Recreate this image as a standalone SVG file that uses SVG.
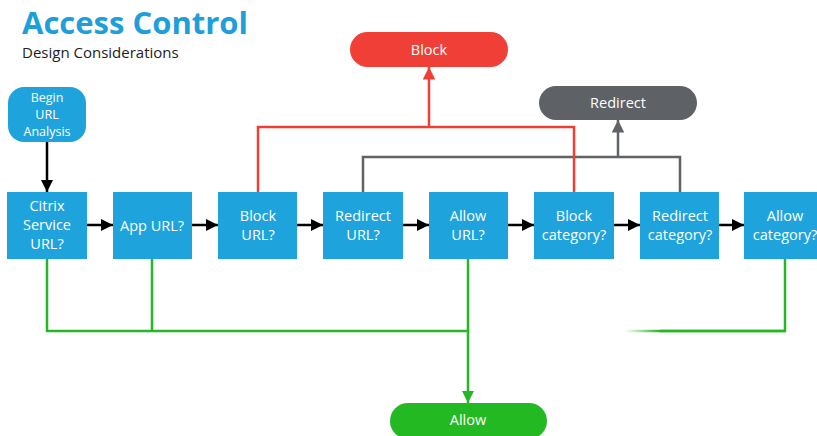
<svg xmlns="http://www.w3.org/2000/svg" width="817" height="436" viewBox="0 0 817 436">
<defs>
<style>
.box{fill:#1fa3dd}
.bt{fill:#fff;font-family:"Open Sans","Noto Sans",sans-serif;font-size:14.5px;text-anchor:middle}
.st{fill:#fff;font-family:"Open Sans","Noto Sans",sans-serif;font-size:12.5px;text-anchor:middle}
.k{stroke:#000;stroke-width:2.5;fill:none}
.r{stroke:#ef3e36;stroke-width:2.5;fill:none}
.g{stroke:#5f6266;stroke-width:2.5;fill:none}
.gr{stroke:#24b824;stroke-width:2.5;fill:none}
</style>
<marker id="ak" viewBox="0 0 10 10" refX="10" refY="5" markerWidth="5" markerHeight="5" orient="auto" markerUnits="strokeWidth"><path d="M0,0L10,5L0,10z" fill="#000"/></marker>
<marker id="ar" viewBox="0 0 10 10" refX="10" refY="5" markerWidth="5" markerHeight="5" orient="auto" markerUnits="strokeWidth"><path d="M0,0L10,5L0,10z" fill="#ef3e36"/></marker>
<marker id="ag" viewBox="0 0 10 10" refX="10" refY="5" markerWidth="5" markerHeight="5" orient="auto" markerUnits="strokeWidth"><path d="M0,0L10,5L0,10z" fill="#5f6266"/></marker>
<marker id="agr" viewBox="0 0 10 10" refX="10" refY="5" markerWidth="5" markerHeight="5" orient="auto" markerUnits="strokeWidth"><path d="M0,0L10,5L0,10z" fill="#24b824"/></marker>
<linearGradient id="fade" x1="625" y1="0" x2="660" y2="0" gradientUnits="userSpaceOnUse"><stop offset="0" stop-color="#24b824" stop-opacity="0"/><stop offset="1" stop-color="#24b824"/></linearGradient>
</defs>
<rect width="817" height="436" fill="#fff"/>
<text x="22" y="34" font-family="Open Sans,Noto Sans,sans-serif" font-weight="bold" font-size="31" fill="#1e9fd9">Access Control</text>
<text x="22" y="58" font-family="Open Sans,Noto Sans,sans-serif" font-size="15" fill="#222">Design Considerations</text>
<g id="connectors">
<line class="k" x1="47" y1="142" x2="47" y2="192" marker-end="url(#ak)"/>
<line class="k" x1="87" y1="225" x2="113" y2="225" marker-end="url(#ak)"/>
<line class="k" x1="192" y1="225" x2="218" y2="225" marker-end="url(#ak)"/>
<line class="k" x1="297" y1="225" x2="323" y2="225" marker-end="url(#ak)"/>
<line class="k" x1="403" y1="225" x2="429" y2="225" marker-end="url(#ak)"/>
<line class="k" x1="508" y1="225" x2="534" y2="225" marker-end="url(#ak)"/>
<line class="k" x1="614" y1="225" x2="640" y2="225" marker-end="url(#ak)"/>
<line class="k" x1="719" y1="225" x2="744" y2="225" marker-end="url(#ak)"/>
<polyline class="g" points="363,192 363,157 680,157 680,192"/>
<line class="g" x1="618" y1="157" x2="618" y2="120" marker-end="url(#ag)"/>
<polyline class="r" points="258,192 258,127 574,127 574,192"/>
<line class="r" x1="429" y1="127" x2="429" y2="67" marker-end="url(#ar)"/>
<polyline class="gr" points="47,259 47,331 468,331"/>
<line class="gr" x1="152" y1="259" x2="152" y2="331"/>
<line class="gr" x1="468" y1="259" x2="468" y2="403" marker-end="url(#agr)"/>
<polyline points="625,331 785,331 785,259" fill="none" stroke="url(#fade)" stroke-width="2.5"/>
<line x1="660" y1="331" x2="785" y2="331" class="gr"/>
</g>
<g id="begin"><rect class="box" x="8" y="87" width="78" height="55" rx="16"/><text class="st" x="47" y="102">Begin</text><text class="st" x="47" y="119">URL</text><text class="st" x="47" y="136">Analysis</text></g>
<g id="citrix"><rect class="box" x="7" y="192" width="80" height="67"/><text class="bt" x="47" y="211">Citrix</text><text class="bt" x="47" y="230">Service</text><text class="bt" x="47" y="249">URL?</text></g>
<g id="app"><rect class="box" x="113" y="192" width="79" height="67"/><text class="bt" x="152" y="231">App URL?</text></g>
<g id="blockurl"><rect class="box" x="218" y="192" width="79" height="67"/><text class="bt" x="258" y="221">Block</text><text class="bt" x="258" y="240">URL?</text></g>
<g id="redirecturl"><rect class="box" x="323" y="192" width="80" height="67"/><text class="bt" x="363" y="221">Redirect</text><text class="bt" x="363" y="240">URL?</text></g>
<g id="allowurl"><rect class="box" x="429" y="192" width="79" height="67"/><text class="bt" x="468" y="221">Allow</text><text class="bt" x="468" y="240">URL?</text></g>
<g id="blockcat"><rect class="box" x="534" y="192" width="80" height="67"/><text class="bt" x="574" y="221">Block</text><text class="bt" x="574" y="240">category?</text></g>
<g id="redirectcat"><rect class="box" x="640" y="192" width="79" height="67"/><text class="bt" x="680" y="221">Redirect</text><text class="bt" x="680" y="240">category?</text></g>
<g id="allowcat"><rect class="box" x="744" y="192" width="82" height="67"/><text class="bt" x="785" y="221">Allow</text><text class="bt" x="785" y="240">category?</text></g>
<g id="block"><rect x="350" y="32" width="158" height="35" rx="17.5" fill="#f03f37"/><text class="bt" x="429" y="55">Block</text></g>
<g id="redirect"><rect x="539" y="86" width="158" height="34" rx="17" fill="#5e6165"/><text class="bt" x="618" y="108">Redirect</text></g>
<g id="allow"><rect x="390" y="403" width="157" height="36" rx="18" fill="#23b923"/><text class="bt" x="468" y="425">Allow</text></g>
</svg>
